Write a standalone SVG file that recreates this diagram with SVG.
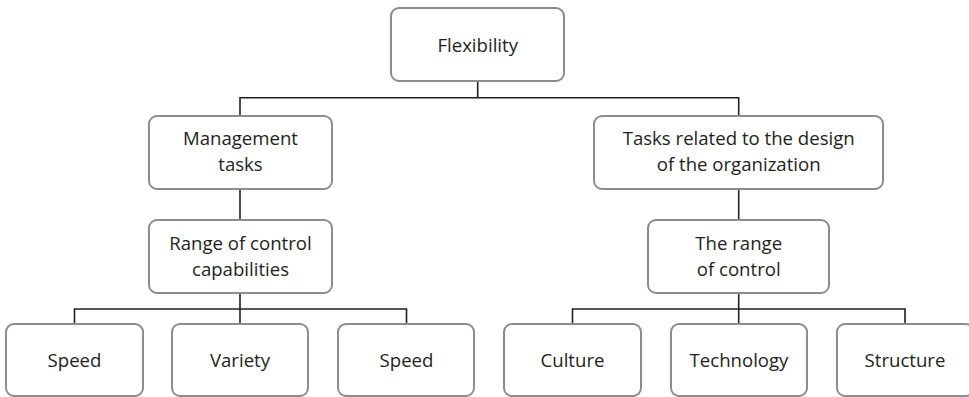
<svg xmlns="http://www.w3.org/2000/svg" width="969" height="397" viewBox="0 0 969 397">
<style>
.box{fill:#ffffff;stroke:#8c8c8e;stroke-width:2}
.t{font-family:"Open Sans","Liberation Sans",sans-serif;font-size:18.6px;fill:#231f20;text-anchor:middle}
.c{fill:none;stroke:#231f20;stroke-width:1.6}
</style>
<rect width="969" height="397" fill="#ffffff"/>
<g id="connectors">
<path class="c" d="M477.7 81V97.7M240 116V97.7H738.7V116"/>
<path class="c" d="M240 189V220M738.7 189V220"/>
<path class="c" d="M240 293V324M74.5 324V309H406.5V324"/>
<path class="c" d="M738.7 293V324M572.5 324V309H905V324"/>
</g>
<g id="flexibility"><rect class="box" x="391" y="8" width="173" height="73" rx="8"/><text class="t" x="477.7" y="52">Flexibility</text></g>
<g id="management"><rect class="box" x="149" y="116" width="183" height="73" rx="8"/><text class="t" x="240.5" y="145.2">Management</text><text class="t" x="240.5" y="170.8">tasks</text></g>
<g id="design"><rect class="box" x="594" y="116" width="289" height="73" rx="8"/><text class="t" x="738.7" y="145.2">Tasks related to the design</text><text class="t" x="738.7" y="170.8">of the organization</text></g>
<g id="range-left"><rect class="box" x="149" y="220" width="183" height="73" rx="8"/><text class="t" x="240.5" y="250.2">Range of control</text><text class="t" x="240.5" y="275.8">capabilities</text></g>
<g id="range-right"><rect class="box" x="648" y="220" width="181" height="73" rx="8"/><text class="t" x="738.7" y="250.2">The range</text><text class="t" x="738.7" y="275.8">of control</text></g>
<g id="speed1"><rect class="box" x="6" y="324" width="137" height="72" rx="8"/><text class="t" x="74.5" y="366.5">Speed</text></g>
<g id="variety"><rect class="box" x="172" y="324" width="136" height="72" rx="8"/><text class="t" x="240" y="366.5">Variety</text></g>
<g id="speed2"><rect class="box" x="338" y="324" width="136" height="72" rx="8"/><text class="t" x="406.5" y="366.5">Speed</text></g>
<g id="culture"><rect class="box" x="504" y="324" width="137" height="72" rx="8"/><text class="t" x="572.5" y="366.5">Culture</text></g>
<g id="technology"><rect class="box" x="671" y="324" width="136" height="72" rx="8"/><text class="t" x="739" y="366.5">Technology</text></g>
<g id="structure"><rect class="box" x="837" y="324" width="137" height="72" rx="8"/><text class="t" x="905" y="366.5">Structure</text></g>
</svg>
